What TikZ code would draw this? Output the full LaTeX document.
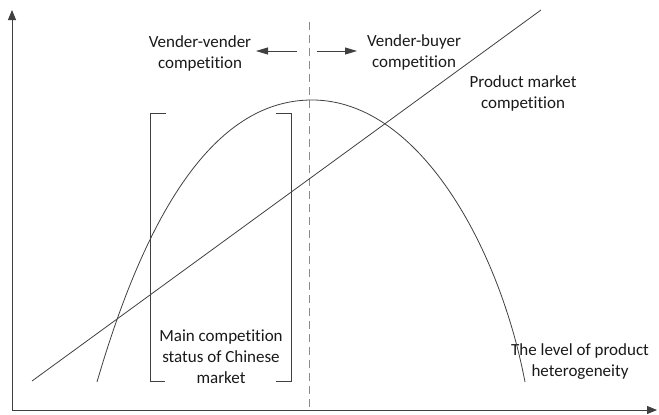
\documentclass[tikz,border=0pt]{standalone}
\usepackage{fontspec}
\setmainfont{Carlito}[Ligatures=NoCommon]
\usepackage{tikz}
\usetikzlibrary{arrows.meta, positioning}

\begin{document}
\begin{tikzpicture}[x=1pt, y=-1pt,
  axis/.style={-{Triangle[length=10pt, width=8pt]}, line width=0.9pt, draw=black!75},
  curve/.style={line width=0.8pt, draw=black!75},
  pointer/.style={-{Triangle[length=12pt, width=7pt]}, line width=0.9pt, draw=black!75},
  divider/.style={dash pattern=on 8pt off 5pt, line width=1pt, draw=black!45},
  label_text/.style={align=center, font=\fontsize{17}{21}\selectfont, text=black!90, inner sep=0pt}
]
  \useasboundingbox (0,0) rectangle (659,415);

  % Axes
  \coordinate (origin) at (12,410);
  \coordinate (y_end) at (12,10);
  \coordinate (x_end) at (657,410);
  \draw[axis] (origin) -- (y_end);
  \draw[axis] (origin) -- (x_end);

  % Dividing line between the two kinds of competition
  \coordinate (split_top) at (309,22);
  \coordinate (split_bot) at (309,410);
  \draw[divider] (split_top) -- (split_bot);

  % Labels
  \node (vv) [label_text] at (200,53) {Vender-vender\\competition};
  \node (vb) [label_text] at (414,52) {Vender-buyer\\competition};
  \node (pm) [label_text] at (523,93) {Product market\\competition};
  \node (status) [label_text] at (221,357) {Main competition\\status of Chinese\\market};
  \node (het) [label_text] at (580,362) {The level of product\\heterogeneity};

  % Direction arrows
  \coordinate (split_l) at (297,51);
  \coordinate (split_r) at (317,51);
  \coordinate (vv_tip) at (256,51);
  \coordinate (vb_tip) at (357,51);
  \draw[pointer] (split_l) -- (vv_tip);
  \draw[pointer] (split_r) -- (vb_tip);

  % Product market competition line
  \coordinate (pm_start) at (32,381);
  \coordinate (pm_end) at (541,10);
  \draw[curve] (pm_start) -- (pm_end);

  % Heterogeneity curve
  \coordinate (het_start) at (97,382);
  \coordinate (het_peak) at (312,100);
  \coordinate (het_end) at (525,382);
  \draw[curve] (het_start) .. controls (150,200) and (220,100) .. (het_peak)
    .. controls (420,100) and (500,250) .. (het_end);

  % Brackets around the Chinese market region
  \draw[curve] (166,113) -- (150,113) -- (150,381) -- (165,381);
  \draw[curve] (276,113) -- (291,113) -- (291,381) -- (276,381);

\end{tikzpicture}
\end{document}
